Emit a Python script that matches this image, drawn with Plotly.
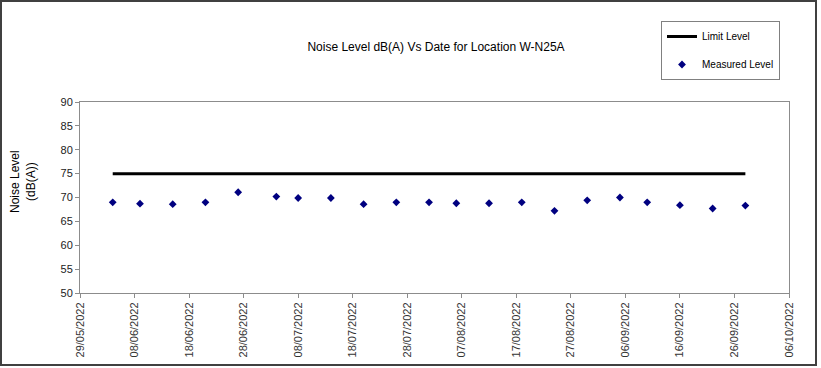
import plotly.graph_objects as go

dates = ['2022-06-04', '2022-06-09', '2022-06-15', '2022-06-21', '2022-06-27',
         '2022-07-04', '2022-07-08', '2022-07-14', '2022-07-20', '2022-07-26',
         '2022-08-01', '2022-08-06', '2022-08-12', '2022-08-18', '2022-08-24',
         '2022-08-30', '2022-09-05', '2022-09-10', '2022-09-16', '2022-09-22',
         '2022-09-28']
measured = [69.0, 68.7, 68.6, 69.0, 71.1, 70.2, 69.9, 69.9, 68.6, 69.0,
            69.0, 68.8, 68.8, 69.0, 67.2, 69.4, 70.0, 69.0, 68.4, 67.7, 68.3]
limit_value = 75
limit = [limit_value] * len(dates)

title_text = "Noise Level dB(A) Vs Date for Location W-N25A"
y_title = "Noise Level<br>(dB(A))"
x_range = ['2022-05-29', '2022-10-06']
y_ticks = [50, 55, 60, 65, 70, 75, 80, 85, 90]

W, H = 821, 368
L, R, T, B = 80, 32, 102, 75
pw, ph = W - L - R, H - T - B

def px(x):
    return (x - L) / pw

def py(y):
    return (H - B - y) / ph

FONT = "Liberation Sans, Arial, sans-serif"

fig = go.Figure()
fig.add_trace(go.Scatter(
    x=dates, y=limit, mode='lines', name='Limit Level',
    line=dict(color='black', width=3), legendgroup='a'))
fig.add_trace(go.Scatter(
    x=dates, y=measured, mode='markers', name='Measured Level',
    marker=dict(symbol='diamond', color='#000080', size=6), legendgroup='b'))

fig.update_layout(
    width=W, height=H,
    margin=dict(l=L, r=R, t=T, b=B, autoexpand=False),
    paper_bgcolor='white', plot_bgcolor='white',
    font=dict(family=FONT, size=11, color='#000000'),
    title=dict(text=title_text, xref='container', x=436 / W, xanchor='center',
               y=1 - 47 / H, yanchor='middle',
               font=dict(size=12, family=FONT, color='black')),
    showlegend=True,
    legend=dict(x=px(661), xanchor='left', y=py(21), yanchor='top',
                bordercolor='#808080', borderwidth=1, bgcolor='white',
                font=dict(size=10, family=FONT, color='black'),
                tracegroupgap=9, traceorder='grouped',
                entrywidth=85, entrywidthmode='pixels'),
    xaxis=dict(type='date', range=x_range, tick0='2022-05-29',
               dtick=10 * 86400000, tickformat='%d/%m/%Y', tickangle=-90,
               showgrid=False, zeroline=False, showline=True, mirror=True,
               linecolor='#8c8c8c', linewidth=1, ticks='outside', ticklen=4,
               tickcolor='#8c8c8c',
               tickfont=dict(size=11, family=FONT, color='#333333')),
    yaxis=dict(range=[50, 90], tickvals=y_ticks, showgrid=False,
               zeroline=False, showline=True, mirror=True,
               linecolor='#8c8c8c', linewidth=1, ticks='outside', ticklen=4,
               tickcolor='#8c8c8c',
               tickfont=dict(size=11, family=FONT, color='#222222')),
    annotations=[dict(text=y_title, xref='paper', yref='paper',
                      x=px(23), y=py(182), xanchor='center', yanchor='middle',
                      textangle=-90, showarrow=False,
                      font=dict(size=12, family=FONT, color='black'))],
    shapes=[dict(type='rect', xref='paper', yref='paper',
                 x0=px(1), x1=px(816), y0=py(1), y1=py(365),
                 line=dict(color='#404040', width=2), layer='below')],
)

fig.write_html("out.html", config={'displayModeBar': False},
               post_script="document.body.style.margin='0';document.body.style.overflow='hidden';")
